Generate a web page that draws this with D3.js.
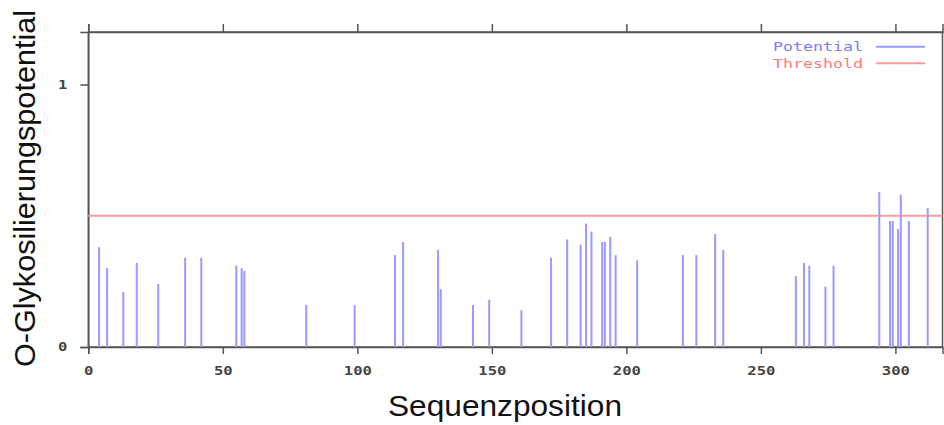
<!DOCTYPE html>
<html>
<head>
<meta charset="UTF-8">
<title>O-Glykosilierung</title>
<style>
  body { margin: 0; background: #fff; }
  svg { display: block; }
</style>
</head>
<body>
<div id="chart"></div>
<script src="https://d3js.org/d3.v7.min.js"></script>
<script>
// Sequenzpositionen mit Glykosilierungspotential
var positions = [4, 7, 13, 18, 26, 36, 42, 55, 57, 58,
                 81, 99, 114, 117, 130, 131, 143, 149, 161, 172,
                 178, 183, 185, 187, 191, 192, 194, 196, 204, 221,
                 226, 233, 236, 263, 266, 268, 274, 277, 294, 298,
                 299, 301, 302, 305, 312];
var potentials = [0.38, 0.30, 0.21, 0.32, 0.24, 0.34, 0.34, 0.31, 0.30, 0.29,
                  0.16, 0.16, 0.35, 0.40, 0.37, 0.22, 0.16, 0.18, 0.14, 0.34,
                  0.41, 0.39, 0.47, 0.44, 0.40, 0.40, 0.42, 0.35, 0.33, 0.35,
                  0.35, 0.43, 0.37, 0.27, 0.32, 0.31, 0.23, 0.31, 0.59, 0.48,
                  0.48, 0.45, 0.58, 0.48, 0.53];
var threshold = 0.5;
var seqLength = 317.5;
var xTicks = [0, 50, 100, 150, 200, 250, 300];
var yTicks = [0, 1];
var legendNames = ["Potential", "Threshold"];

var W = 944, H = 425;
var margin = {top: 32, left: 88.3, right: 1.5, bottom: 78};
var width = W - margin.left - margin.right,
    height = H - margin.top - margin.bottom;

var blue = "#9a9aff", red = "#ff9a9a", axisCol = "#555";

var svg = d3.select("#chart").append("svg")
    .attr("width", W)
    .attr("height", H);

var g = svg.append("g")
    .attr("transform", "translate(" + margin.left + "," + margin.top + ")");

var x = d3.scaleLinear().domain([0, seqLength]).range([0, width]);
var y = d3.scaleLinear().domain([0, 1.2]).range([height, 0]);

// Rahmen
g.append("rect")
    .attr("width", width)
    .attr("height", height)
    .attr("fill", "none")
    .attr("stroke", axisCol)
    .attr("stroke-width", 1.5);

function styleAxis(sel) {
    sel.select(".domain").attr("stroke", axisCol).attr("stroke-width", 1.5);
    sel.selectAll(".tick line").attr("stroke", axisCol).attr("stroke-width", 1.5);
    sel.selectAll(".tick text")
        .attr("fill", "#444")
        .attr("font-family", "'DejaVu Sans Mono', monospace")
        .attr("font-weight", "bold")
        .attr("font-size", 12)
        .attr("textLength", function(d) { return String(d).length * 9.4; })
        .attr("lengthAdjust", "spacingAndGlyphs");
}

// x-Achse unten
g.append("g")
    .attr("transform", "translate(0," + height + ")")
    .call(d3.axisBottom(x).tickValues(xTicks).tickSize(7).tickPadding(12))
    .call(styleAxis);

// x-Achse oben, nur Striche
g.append("g")
    .call(d3.axisTop(x).tickValues(xTicks).tickSize(8).tickFormat(""))
    .call(styleAxis);

// y-Achse
g.append("g")
    .call(d3.axisLeft(y).tickValues(yTicks).tickFormat(d3.format("d")).tickSize(8).tickPadding(13))
    .call(styleAxis);

// Schwellenwert
g.append("line")
    .attr("x1", 0)
    .attr("x2", width)
    .attr("y1", y(threshold))
    .attr("y2", y(threshold))
    .attr("stroke", red)
    .attr("stroke-width", 2);

// Potential-Striche
g.selectAll(".bar")
    .data(positions)
    .enter().append("line")
    .attr("class", "bar")
    .attr("x1", function(d) { return x(d); })
    .attr("x2", function(d) { return x(d); })
    .attr("y1", y(0))
    .attr("y2", function(d, i) { return y(potentials[i]); })
    .attr("stroke", blue)
    .attr("stroke-width", 2);

// Legende
var legend = svg.selectAll(".legend")
    .data(legendNames)
    .enter().append("g")
    .attr("class", "legend")
    .attr("transform", function(d, i) { return "translate(773," + (46.7 + i * 16.6) + ")"; });

legend.append("text")
    .attr("dy", "0.35em")
    .attr("font-family", "'DejaVu Sans Mono', monospace")
    .attr("font-size", 12)
    .attr("textLength", 90)
    .attr("lengthAdjust", "spacingAndGlyphs")
    .attr("fill", function(d, i) { return i === 0 ? "#7b7bff" : "#ff7b7b"; })
    .text(function(d) { return d; });

legend.append("line")
    .attr("x1", 103)
    .attr("x2", 152)
    .attr("stroke", function(d, i) { return i === 0 ? blue : red; })
    .attr("stroke-width", 2);

// Achsentitel
svg.append("text")
    .attr("x", 505)
    .attr("y", 416)
    .attr("text-anchor", "middle")
    .attr("font-family", "'Liberation Sans', Arial, sans-serif")
    .attr("font-size", 30)
    .attr("textLength", 234)
    .attr("lengthAdjust", "spacingAndGlyphs")
    .attr("fill", "#111")
    .text("Sequenzposition");

svg.append("text")
    .attr("transform", "translate(35,188.5) rotate(-90)")
    .attr("text-anchor", "middle")
    .attr("font-family", "'Liberation Sans', Arial, sans-serif")
    .attr("font-size", 30)
    .attr("textLength", 357)
    .attr("lengthAdjust", "spacingAndGlyphs")
    .attr("fill", "#111")
    .text("O-Glykosilierungspotential");
</script>
</body>
</html>
